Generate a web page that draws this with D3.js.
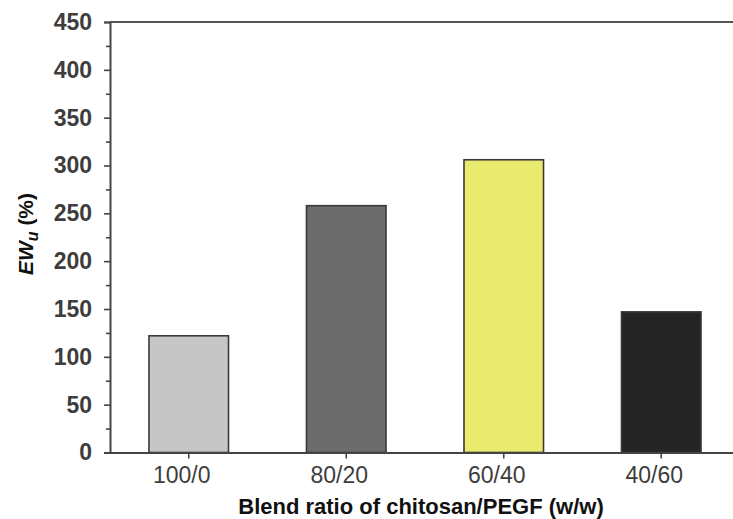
<!DOCTYPE html>
<html>
<head>
<meta charset="utf-8">
<script src="https://cdn.jsdelivr.net/npm/d3@7"></script>
<style>
  html, body { margin: 0; padding: 0; background: #fff; }
  svg { display: block; }
  text { font-family: "Liberation Sans", Arial, sans-serif; }
</style>
</head>
<body>
<svg id="chart" width="733" height="519"></svg>
<script>
// Water uptake of chitosan/PEGF blend films
const categories = ["100/0", "80/20", "60/40", "40/60"];
const values = [122, 258, 306, 147];
const barColors = ["#c5c6c5", "#6b6c6b", "#e9ea6e", "#232423"];
const yTicks = [0, 50, 100, 150, 200, 250, 300, 350, 400, 450];
const yMinorTicks = [25, 75, 125, 175, 225, 275, 325, 375, 425];

const svg = d3.select("#chart");
const plotLeft = 110, plotRight = 740, plotTop = 22, plotBottom = 452.5;

const x = d3.scaleBand().domain(categories).range([plotLeft, plotRight]).padding(0);
const y = d3.scaleLinear().domain([0, 450]).range([plotBottom, plotTop]);
const barW = x.bandwidth() * 0.505;

// bars
svg.append("g").selectAll("rect")
  .data(categories)
  .join("rect")
  .attr("x", (d) => x(d) + x.bandwidth() / 2 - barW / 2)
  .attr("y", (d, i) => y(values[i]))
  .attr("width", barW)
  .attr("height", (d, i) => y(0) - y(values[i]))
  .attr("fill", (d, i) => barColors[i])
  .attr("stroke", "#3a3a3a")
  .attr("stroke-width", 1.6);

// top frame line
svg.append("line").attr("x1", plotLeft).attr("x2", plotRight).attr("y1", plotTop).attr("y2", plotTop)
  .attr("stroke", "#555").attr("stroke-width", 2);

// left axis
const yAxis = d3.axisLeft(y).tickValues(yTicks).tickSize(6).tickPadding(12);
const gy = svg.append("g").attr("transform", `translate(${plotLeft},0)`).call(yAxis);
gy.select(".domain").attr("stroke", "#444").attr("stroke-width", 2);
gy.selectAll(".tick line").attr("stroke", "#444").attr("stroke-width", 1.6);
gy.selectAll(".tick text")
  .attr("font-size", 23).attr("font-weight", "bold").attr("fill", "#3d3d3d")
  .attr("font-family", "Liberation Sans, Arial, sans-serif");

// minor ticks
const yMinor = d3.axisLeft(y).tickValues(yMinorTicks).tickSize(4).tickFormat("");
const gym = svg.append("g").attr("transform", `translate(${plotLeft},0)`).call(yMinor);
gym.select(".domain").remove();
gym.selectAll(".tick line").attr("stroke", "#444").attr("stroke-width", 1.6);

// bottom axis
const xAxis = d3.axisBottom(x).tickSize(6).tickPadding(8).tickSizeOuter(0);
const gx = svg.append("g").attr("transform", `translate(0,${plotBottom})`).call(xAxis);
gx.select(".domain").attr("stroke", "#444").attr("stroke-width", 2);
gx.selectAll(".tick line").attr("stroke", "#444").attr("stroke-width", 1.6);
gx.selectAll(".tick text")
  .attr("font-size", 23).attr("fill", "#3d3d3d").attr("dx", -7)
  .attr("font-family", "Liberation Sans, Arial, sans-serif");

// axis titles
svg.append("text")
  .attr("x", 421).attr("y", 514)
  .attr("text-anchor", "middle")
  .attr("font-size", 22).attr("font-weight", "bold").attr("fill", "#111")
  .text("Blend ratio of chitosan/PEGF (w/w)");

const yt = svg.append("text")
  .attr("transform", "translate(33,234) rotate(-90)")
  .attr("text-anchor", "middle")
  .attr("font-size", 21).attr("font-weight", "bold").attr("fill", "#111");
yt.append("tspan").attr("font-style", "italic").text("EW");
yt.append("tspan").attr("font-style", "italic").attr("font-size", 16).attr("dy", 5).text("u");
yt.append("tspan").attr("dy", -5).text(" (%)");
</script>
</body>
</html>
